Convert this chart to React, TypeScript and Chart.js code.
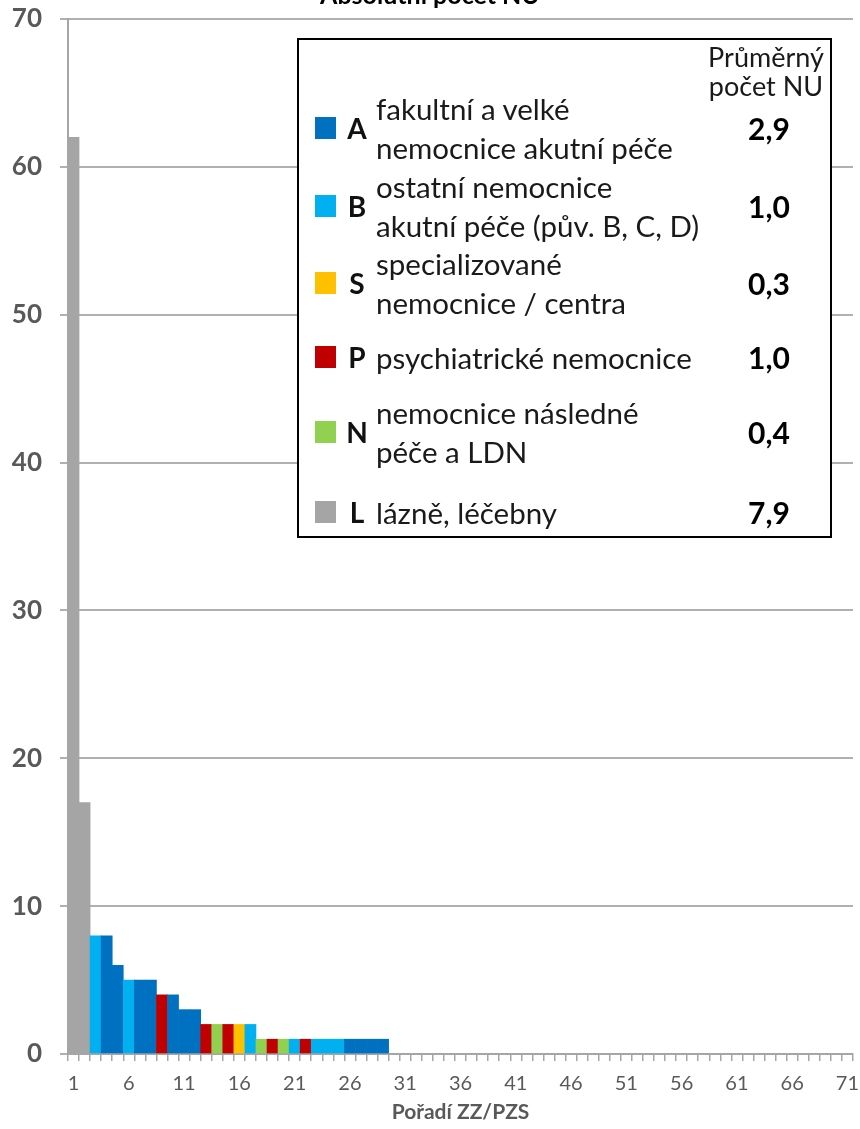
import React, { useEffect, useRef } from 'react';
import { Chart, registerables } from 'chart.js';

Chart.register(...registerables);

const chartTitle = 'Absolutní počet NU';
const xAxisTitle = 'Pořadí ZZ/PZS';

const positions = [
  '1','2','3','4','5','6','7','8','9','10','11','12','13','14','15','16','17','18','19','20',
  '21','22','23','24','25','26','27','28','29','30','31','32','33','34','35','36','37','38','39','40',
  '41','42','43','44','45','46','47','48','49','50','51','52','53','54','55','56','57','58','59','60',
  '61','62','63','64','65','66','67','68','69','70','71',
];

const counts = [
  62, 17, 8, 8, 6, 5, 5, 5, 4, 4, 3, 3, 2, 2, 2, 2, 2, 1, 1, 1,
  1, 1, 1, 1, 1, 1, 1, 1, 1, 0, 0, 0, 0, 0, 0, 0, 0, 0, 0, 0,
  0, 0, 0, 0, 0, 0, 0, 0, 0, 0, 0, 0, 0, 0, 0, 0, 0, 0, 0, 0,
  0, 0, 0, 0, 0, 0, 0, 0, 0, 0, 0,
];

const barGroups = [
  'L','L','B','A','A','B','A','A','P','A','A','A','P','N','P','S','B','N','P','N',
  'B','P','B','B','B','A','A','A','A',
];

const groupCodes = ['A', 'B', 'S', 'P', 'N', 'L'];
const groupNames = [
  ['fakultní a velké', 'nemocnice akutní péče'],
  ['ostatní nemocnice', 'akutní péče (pův. B, C, D)'],
  ['specializované', 'nemocnice / centra'],
  ['psychiatrické nemocnice'],
  ['nemocnice následné', 'péče a LDN'],
  ['lázně, léčebny'],
];
const groupAverages = ['2,9', '1,0', '0,3', '1,0', '0,4', '7,9'];
const groupColors = ['#0070C0', '#00B0F0', '#FFC000', '#C00000', '#92D050', '#A5A5A5'];
const averageHeader = ['Průměrný', 'počet NU'];

const colorOf = (code: string) => groupColors[groupCodes.indexOf(code)] || '#A5A5A5';

const titlePlugin = {
  id: 'cutTitle',
  afterDraw(chart: any) {
    const ctx = chart.ctx;
    ctx.save();
    ctx.font = 'bold 25px Lato';
    ctx.fillStyle = '#000';
    ctx.textAlign = 'center';
    ctx.textBaseline = 'alphabetic';
    ctx.fillText(chartTitle, chart.width / 2, 4);
    ctx.restore();
  },
};

export default function App() {
  const ref = useRef<HTMLCanvasElement | null>(null);

  useEffect(() => {
    if (!ref.current) return;
    Chart.defaults.font.family = 'Lato';
    const chart = new Chart(ref.current, {
      type: 'bar',
      data: {
        labels: positions,
        datasets: [
          {
            data: counts,
            backgroundColor: counts.map((_, i) => colorOf(barGroups[i] || 'L')),
            borderWidth: 0,
            barPercentage: 1,
            categoryPercentage: 1,
          },
        ],
      },
      options: {
        animation: false,
        responsive: false,
        maintainAspectRatio: false,
        layout: { padding: { top: 19, right: 7, left: 0, bottom: 0 } },
        plugins: {
          legend: { display: false },
          tooltip: { enabled: false },
          title: { display: false },
        },
        scales: {
          x: {
            grid: {
              display: true,
              drawOnChartArea: false,
              drawTicks: true,
              tickLength: 7,
              color: '#A6A6A6',
              lineWidth: 1.5,
              offset: true,
            },
            border: { display: true, color: '#A6A6A6', width: 2 },
            ticks: {
              autoSkip: false,
              maxRotation: 0,
              color: '#595959',
              font: { size: 20 },
              padding: 11,
              callback: (_v: any, i: number) => (i % 5 === 0 ? positions[i] : ''),
            },
            title: {
              display: true,
              text: xAxisTitle,
              color: '#595959',
              font: { size: 21, weight: 'bold' },
              padding: { top: 4, bottom: 4 },
            },
            afterFit: (s: any) => {
              s.height = 75;
              s.paddingLeft = 0;
              s.paddingRight = 0;
            },
          },
          y: {
            min: 0,
            max: 70,
            ticks: {
              stepSize: 10,
              color: '#595959',
              font: { size: 26, weight: 'bold' },
              padding: 18,
            },
            grid: { color: '#B0B0B0', lineWidth: 2, tickLength: 8 },
            border: { color: '#A6A6A6', width: 2 },
            afterFit: (s: any) => {
              s.width = 68;
              s.paddingTop = 0;
              s.paddingBottom = 0;
            },
          },
        },
      } as any,
      plugins: [titlePlugin],
    });
    return () => chart.destroy();
  }, []);

  const rowCenters = [88, 166, 243, 317, 392, 472];
  const lineH = 39;

  return (
    <div style={{ position: 'fixed', left: 0, top: 0, width: 860, height: 1129, background: '#fff', overflow: 'hidden', fontFamily: 'Lato' }}>
      <canvas ref={ref} width={860} height={1129} style={{ position: 'absolute', left: 0, top: 0, width: 860, height: 1129 }} />
      <div
        style={{
          position: 'absolute',
          left: 297,
          top: 38,
          width: 535,
          height: 500,
          border: '2px solid #000',
          boxSizing: 'border-box',
          background: '#fff',
          color: '#1a1a1a',
        }}
      >
        <div
          style={{
            position: 'absolute',
            left: 397,
            width: 140,
            top: 2,
            textAlign: 'center',
            fontSize: 27,
            lineHeight: '29px',
          }}
        >
          {averageHeader.map((t) => (
            <div key={t}>{t}</div>
          ))}
        </div>
        {groupCodes.map((code, i) => (
          <div key={code} style={{ position: 'absolute', left: 0, top: rowCenters[i], width: '100%', height: 0 }}>
            <div
              style={{
                position: 'absolute',
                left: 16,
                top: -11,
                width: 21,
                height: 22,
                background: groupColors[i],
              }}
            />
            <div
              style={{
                position: 'absolute',
                left: 41,
                top: -17,
                width: 34,
                textAlign: 'center',
                fontSize: 28,
                fontWeight: 'bold',
                lineHeight: '34px',
                color: '#111',
              }}
            >
              {code}
            </div>
            <div
              style={{
                position: 'absolute',
                left: 77,
                top: -(groupNames[i].length * lineH) / 2,
                fontSize: 29.5,
                lineHeight: lineH + 'px',
                whiteSpace: 'nowrap',
              }}
            >
              {groupNames[i].map((t) => (
                <div key={t}>{t}</div>
              ))}
            </div>
            <div
              style={{
                position: 'absolute',
                left: 420,
                width: 100,
                top: -17,
                textAlign: 'center',
                fontSize: 30,
                fontWeight: 'bold',
                lineHeight: '34px',
                color: '#000',
              }}
            >
              {groupAverages[i]}
            </div>
          </div>
        ))}
      </div>
    </div>
  );
}
